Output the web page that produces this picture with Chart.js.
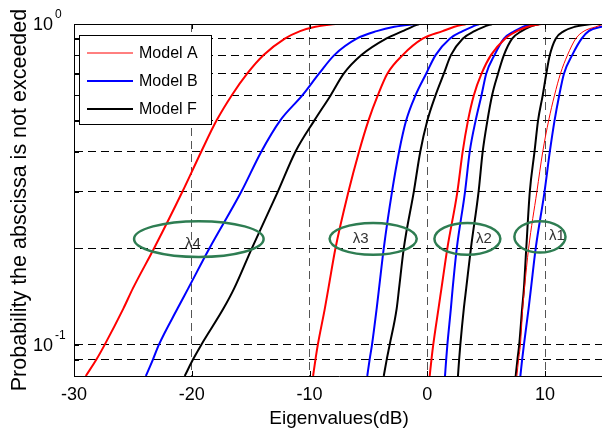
<!DOCTYPE html>
<html lang="en">
<head>
<meta charset="UTF-8">
<title>Eigenvalue CDF</title>
<script src="https://cdn.jsdelivr.net/npm/chart.js"></script>
<style>
  html, body { margin: 0; padding: 0; background: #fff; overflow: hidden; }
  #wrap { width: 602px; height: 431px; overflow: hidden; }
</style>
</head>
<body>
<div id="wrap"><canvas id="cdfChart" width="605" height="431"></canvas></div>
<script>
const probs = [0.08, 0.09, 0.1, 0.13, 0.15, 0.2, 0.3, 0.4, 0.5, 0.6, 0.7, 0.8, 0.9, 0.95, 0.98, 1.0];

// eigenvalues in dB, one array per model and eigenvalue
const aL4 = [-29.0, -28.1, -27.4, -25.8, -25.0, -23.2, -20.8, -19.2, -17.9, -16.6, -15.3, -13.9, -12.1, -10.8, -9.5, -7.8];
const bL4 = [-23.9, -23.3, -22.8, -21.2, -20.3, -18.5, -15.8, -14.1, -12.5, -10.6, -9.2, -7.9, -6.0, -4.3, -2.8, -0.9];
const fL4 = [-20.6, -19.9, -19.2, -17.3, -16.4, -14.9, -12.7, -11.2, -9.6, -8.2, -7.1, -5.6, -3.5, -2.1, -1.3, -0.7];

const aL3 = [-9.7, -9.5, -9.3, -8.7, -8.4, -7.8, -6.7, -5.8, -5.0, -4.2, -3.4, -2.1, -0.4, 1.3, 2.3, 3.3];
const bL3 = [-5.1, -4.9, -4.7, -4.3, -4.1, -3.7, -3.0, -2.4, -1.8, -1.0, -0.1, 0.7, 1.9, 3.0, 3.8, 4.4];
const fL3 = [-3.7, -3.45, -3.2, -2.6, -2.4, -2.0, -1.15, -0.6, 0.0, 0.7, 1.4, 2.0, 3.0, 4.0, 4.8, 5.5];

const aL2 = [0.2, 0.35, 0.5, 0.95, 1.2, 1.7, 2.55, 3.0, 3.45, 3.95, 4.6, 5.4, 6.6, 7.6, 8.5, 9.7];
const bL2 = [1.5, 1.6, 1.7, 2.0, 2.15, 2.5, 3.2, 3.6, 4.1, 4.6, 5.0, 5.7, 6.5, 7.4, 8.1, 8.9];
const fL2 = [2.6, 2.7, 2.8, 3.1, 3.3, 3.7, 4.35, 4.7, 5.1, 5.5, 6.0, 6.5, 7.2, 8.0, 8.7, 9.5];

const aL1 = [7.6, 7.75, 7.9, 8.1, 8.25, 8.6, 9.3, 9.8, 10.3, 10.8, 11.3, 11.9, 12.6, 13.3, 14.3, 15.0];
const bL1 = [7.9, 8.05, 8.2, 8.6, 8.8, 9.2, 9.95, 10.4, 10.8, 11.2, 11.6, 12.3, 13.1, 13.7, 14.8, 16.0];
const fL1 = [7.5, 7.65, 7.8, 8.05, 8.2, 8.4, 8.7, 9.1, 9.4, 9.8, 10.1, 10.4, 10.9, 11.6, 12.5, 14.0];

const models = ['Model A', 'Model B', 'Model F'];
const xTicks = [-30, -20, -10, 0, 10];
const yGridValues = [0.08, 0.09, 0.1, 0.2, 0.3, 0.4, 0.5, 0.6, 0.7, 0.8, 0.9, 1];
const yLabelValues = [0.1, 1];
const yLabelExp = ['-1', '0'];

// eigenvalue markers (data units)
const lambdaNames = ['\u03bb4', '\u03bb3', '\u03bb2', '\u03bb1'];
const ringCentre = [-19.4, -4.6, 3.4, 9.56];
const ringHalfWidth = [5.5, 3.7, 2.8, 2.17];
const ringTop = [0.243, 0.240, 0.240, 0.243];
const ringBottom = [0.188, 0.191, 0.191, 0.194];
const nameX = [-19.9, -5.65, 4.8, 11.0];
const nameY = [0.207, 0.214, 0.214, 0.219];

const FONT = "'Liberation Sans', Arial, sans-serif";
const colors = ['#ff0000', '#0000ff', '#000000'];
const curves = [
  [aL4, 0, 2], [aL3, 0, 2], [aL2, 0, 2], [aL1, 0, 1],
  [bL4, 1, 2], [bL3, 1, 2], [bL2, 1, 2], [bL1, 1, 2],
  [fL4, 2, 2], [fL3, 2, 2], [fL2, 2, 2], [fL1, 2, 2]
];

const datasets = curves.map(([xs, m, w]) => ({
  label: models[m],
  data: xs.map((x, i) => ({ x: x, y: probs[i] })),
  borderColor: colors[m],
  borderWidth: w,
  pointRadius: 0,
  fill: false,
  cubicInterpolationMode: 'monotone'
}));

const extras = {
  id: 'extras',
  afterDatasetsDraw(chart) {
    const ctx = chart.ctx;
    const xs = chart.scales.x, ys = chart.scales.y;
    const area = chart.chartArea;
    ctx.save();
    ctx.beginPath();
    ctx.rect(area.left, area.top, area.right - area.left, area.bottom - area.top);
    ctx.clip();
    // ellipses round each eigenvalue group
    ctx.strokeStyle = 'rgb(46,125,82)';
    ctx.lineWidth = 2.5;
    lambdaNames.forEach((n, i) => {
      const cx = xs.getPixelForValue(ringCentre[i]);
      const rx = xs.getPixelForValue(ringCentre[i] + ringHalfWidth[i]) - cx;
      const top = ys.getPixelForValue(ringTop[i]);
      const bot = ys.getPixelForValue(ringBottom[i]);
      ctx.beginPath();
      ctx.ellipse(cx, (top + bot) / 2, rx, (bot - top) / 2, 0, 0, Math.PI * 2);
      ctx.stroke();
    });
    ctx.fillStyle = '#333';
    ctx.font = '15px ' + FONT;
    ctx.textAlign = 'center';
    ctx.textBaseline = 'middle';
    lambdaNames.forEach((n, i) => {
      ctx.fillText(n, xs.getPixelForValue(nameX[i]), ys.getPixelForValue(nameY[i]));
    });
    ctx.restore();
  },
  afterDraw(chart) {
    const ctx = chart.ctx;
    const xs = chart.scales.x, ys = chart.scales.y;
    const area = chart.chartArea;
    ctx.save();
    // top frame line and inward tick marks
    ctx.strokeStyle = '#000';
    ctx.lineWidth = 1;
    ctx.beginPath();
    ctx.moveTo(area.left, area.top + 0.5);
    ctx.lineTo(area.right, area.top + 0.5);
    yGridValues.forEach(v => {
      const py = Math.round(ys.getPixelForValue(v)) + 0.5;
      ctx.moveTo(area.left, py);
      ctx.lineTo(area.left + 5, py);
    });
    xTicks.forEach(v => {
      const px = Math.round(xs.getPixelForValue(v)) + 0.5;
      ctx.moveTo(px, area.bottom);
      ctx.lineTo(px, area.bottom - 5);
      ctx.moveTo(px, area.top);
      ctx.lineTo(px, area.top + 5);
    });
    ctx.stroke();

    // y tick labels as powers of ten
    ctx.fillStyle = '#000';
    yLabelValues.forEach((v, i) => {
      const py = ys.getPixelForValue(v);
      ctx.font = '18px ' + FONT;
      ctx.textAlign = 'right';
      ctx.textBaseline = 'middle';
      ctx.fillText('10', area.left - 21, py + 1);
      ctx.font = '12px ' + FONT;
      ctx.textAlign = 'left';
      ctx.fillText(yLabelExp[i], area.left - 19, py - 9);
    });

    // legend box
    const lx = area.left + 5, ly = area.top + 11, lw = 132, lh = 89;
    ctx.fillStyle = '#fff';
    ctx.fillRect(lx, ly, lw, lh);
    ctx.strokeStyle = '#000';
    ctx.lineWidth = 1;
    ctx.strokeRect(lx + 0.5, ly + 0.5, lw, lh);
    models.forEach((m, i) => {
      const y = ly + 18 + i * 28;
      ctx.strokeStyle = colors[i];
      ctx.lineWidth = i === 0 ? 1 : 2;
      ctx.beginPath();
      ctx.moveTo(lx + 8, y);
      ctx.lineTo(lx + 54, y);
      ctx.stroke();
      ctx.fillStyle = '#000';
      ctx.font = '16px ' + FONT;
      ctx.textAlign = 'left';
      ctx.textBaseline = 'middle';
      ctx.fillText(m, lx + 60, y + 1);
    });
    ctx.restore();
  }
};

new Chart(document.getElementById('cdfChart'), {
  type: 'line',
  data: { datasets: datasets },
  plugins: [extras],
  options: {
    responsive: false,
    animation: false,
    layout: { padding: { top: 24, right: 1, left: 0, bottom: 0 } },
    plugins: { legend: { display: false }, tooltip: { enabled: false } },
    scales: {
      x: {
        type: 'linear',
        min: -30,
        max: 15,
        afterBuildTicks: s => { s.ticks = xTicks.map(v => ({ value: v })); },
        afterFit: s => { s.height = 55; },
        ticks: {
          color: '#000',
          padding: 8,
          font: { family: FONT, size: 18 },
          maxRotation: 0,
          callback: v => String(v)
        },
        grid: {
          color: c => (c.tick && c.tick.value === -30) ? 'rgba(0,0,0,0)' : '#555',
          lineWidth: 1,
          drawTicks: false,
          borderDash: [8, 5]
        },
        border: { display: true, color: '#000', width: 1, dash: [8, 5] },
        title: {
          display: true,
          text: 'Eigenvalues(dB)',
          color: '#000',
          font: { family: FONT, size: 19 },
          padding: { top: 0, bottom: 1 }
        }
      },
      y: {
        type: 'logarithmic',
        min: 0.08,
        max: 1,
        afterBuildTicks: s => { s.ticks = yGridValues.map(v => ({ value: v })); },
        afterFit: s => { s.width = 74; },
        ticks: { display: false },
        grid: {
          color: c => (c.tick && (c.tick.value === 1 || c.tick.value === 0.08)) ? 'rgba(0,0,0,0)' : '#000',
          lineWidth: 1,
          drawTicks: false,
          borderDash: [8, 5]
        },
        border: { display: true, color: '#000', width: 1, dash: [8, 5] },
        title: {
          display: true,
          text: 'Probability the abscissa is not exceeded',
          color: '#000',
          font: { family: FONT, size: 21.5 },
          padding: { top: 7, bottom: 0 }
        }
      }
    }
  }
});
</script>
</body>
</html>
